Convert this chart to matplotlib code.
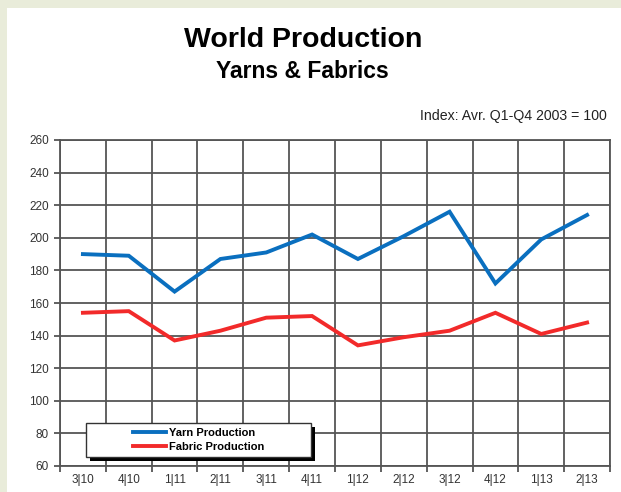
import numpy as np
import matplotlib.pyplot as plt
from matplotlib.patches import Rectangle
from matplotlib import font_manager

plt.rcParams['font.family'] = ['Liberation Sans', 'DejaVu Sans']
narrow = [f.name for f in font_manager.fontManager.ttflist if 'Narrow' in f.name]
small_font = ['Liberation Sans Narrow', 'Liberation Sans'] if narrow else ['Liberation Sans']

# quarters and index values (avr. Q1-Q4 2003 = 100)
quarters = ['3|10', '4|10', '1|11', '2|11', '3|11', '4|11',
            '1|12', '2|12', '3|12', '4|12', '1|13', '2|13']
yarn = [190, 189, 167, 187, 191, 202, 187, 201, 216, 172, 199, 214]
fabric = [154, 155, 137, 143, 151, 152, 134, 139, 143, 154, 141, 148]
yticks = [60, 80, 100, 120, 140, 160, 180, 200, 220, 240, 260]

fig = plt.figure(figsize=(6.21, 4.92), dpi=100)
fig.patch.set_facecolor('#e9ecda')
# white panel
fig.patches.append(Rectangle((7/621, 0), 1, 1 - 8/492, transform=fig.transFigure,
                             facecolor='white', edgecolor='none', zorder=-5))

ax = fig.add_axes([60/621, 26/492, 550/621, 326/492])
ax.set_zorder(2)
ax.set_facecolor('white')

xs = np.arange(len(quarters))
ax.plot(xs, yarn, color='#0a6fbf', lw=2.8, solid_joinstyle='miter', zorder=3,
        label='Yarn Production')
ax.plot(xs, fabric, color='#f22a2a', lw=2.8, solid_joinstyle='miter', zorder=3,
        label='Fabric Production')

ax.set_xlim(-0.5, len(quarters) - 0.5)
ax.set_ylim(60, 260)
ax.set_yticks(yticks)
ax.set_xticks(np.arange(-0.5, len(quarters)), labels=[])
ax.set_xticks(xs, labels=quarters, minor=True)
ax.tick_params(axis='x', which='minor', length=0, pad=6, labelsize=8.5, colors='#333333')
ax.tick_params(axis='x', which='major', length=4, width=1.3, color='#555555')
ax.tick_params(axis='y', length=4, width=1.3, color='#555555', labelsize=8.5,
               labelcolor='#333333', pad=4)
for lab in ax.get_xticklabels(minor=True) + ax.get_yticklabels():
    lab.set_family(small_font)
ax.grid(True, which='major', color='#555555', lw=1.3)
ax.set_axisbelow(True)
for s in ax.spines.values():
    s.set_color('#555555')
    s.set_linewidth(1.3)

# legend box with black shadow
bx, by, bw, bh = 26/550, 9/326, 225/550, 34/326
ax.add_patch(Rectangle((bx + 4/550, by - 4/326), bw, bh, transform=ax.transAxes,
                       facecolor='black', edgecolor='none', zorder=4))
ax.add_patch(Rectangle((bx, by), bw, bh, transform=ax.transAxes,
                       facecolor='white', edgecolor='#333333', lw=1, zorder=5))
leg = ax.legend(loc='center', bbox_to_anchor=(bx + bw/2, by + bh/2),
                frameon=False, handlelength=3.0, handletextpad=0.2,
                labelspacing=0.3, borderpad=0,
                prop={'family': small_font, 'weight': 'bold', 'size': 8})
leg.set_zorder(6)

fig.text(303/621, 1 - 40/492, 'World Production', ha='center', va='center',
         fontsize=20.5, fontweight='bold')
fig.text(302/621, 1 - 71/492, 'Yarns & Fabrics', ha='center', va='center',
         fontsize=16.5, fontweight='bold')
fig.text(607/621, 1 - 116/492, 'Index: Avr. Q1-Q4 2003 = 100', ha='right',
         va='center', fontsize=10.2, color='#222222', family=small_font)

fig.savefig('out.png', dpi=100, facecolor=fig.get_facecolor())
